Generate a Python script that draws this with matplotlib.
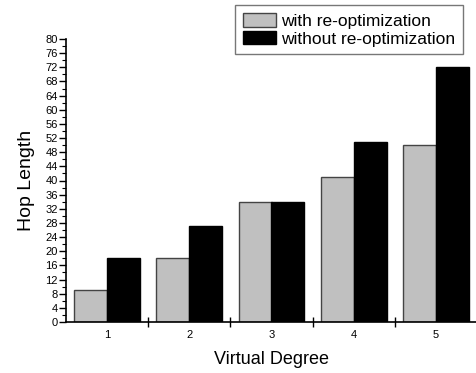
import matplotlib
matplotlib.use("Agg")
import matplotlib.pyplot as plt
import numpy as np
from matplotlib.ticker import MultipleLocator

plt.rcParams['font.family'] = ['Liberation Sans', 'DejaVu Sans']

categories = ["1", "2", "3", "4", "5"]
with_reopt = [9, 18, 34, 41, 50]
without_reopt = [18, 27, 34, 51, 72]
yticks = list(range(0, 81, 4))

fig = plt.figure(figsize=(4.77, 3.73), dpi=100)
ax = fig.add_axes([66/477, 1-322/373, 411/477, (322-39)/373])

x = np.arange(1, len(categories) + 1)
w = 0.4
ax.bar(x - w/2, with_reopt, w, color='#c0c0c0', edgecolor='#444444', linewidth=1.0,
       label='with re-optimization')
ax.bar(x + w/2, without_reopt, w, color='black', edgecolor='black', linewidth=1.0,
       label='without re-optimization')

ax.set_xlim(0.5, 5.5)
ax.set_ylim(0, 80)
ax.spines['top'].set_visible(False)
ax.spines['right'].set_visible(False)
ax.spines['left'].set_linewidth(1.2)
ax.spines['bottom'].set_linewidth(1.2)

ax.set_yticks(yticks)
ax.set_yticklabels([str(v) for v in yticks], fontsize=8)
ax.yaxis.set_minor_locator(MultipleLocator(2))
ax.tick_params(axis='y', which='major', direction='out', length=5, width=1, pad=1)
ax.tick_params(axis='y', which='minor', direction='out', length=3, width=0.8)

ax.set_xticks(np.arange(1.5, 5.5, 1.0))
ax.set_xticklabels([])
ax.set_xticks(x, minor=True)
ax.set_xticklabels(categories, minor=True, fontsize=8)
ax.tick_params(axis='x', which='major', direction='inout', length=7, width=1)
ax.tick_params(axis='x', which='minor', length=0, pad=6)

ax.set_ylabel('Hop Length', fontsize=14, labelpad=7)
ax.set_xlabel('Virtual Degree', fontsize=13, labelpad=8)

leg = ax.legend(loc='upper right', bbox_to_anchor=(463/477, 1-5/373),
                bbox_transform=fig.transFigure, fontsize=12.5, frameon=True,
                fancybox=False, edgecolor='#555555', handlelength=1.9,
                handleheight=0.86, handletextpad=0.3, borderpad=0.45,
                labelspacing=0.1, borderaxespad=0)
leg.get_frame().set_linewidth(1.0)

fig.savefig('out.png', dpi=100)
